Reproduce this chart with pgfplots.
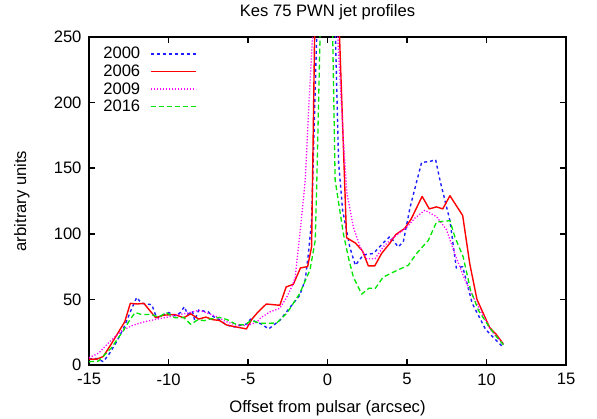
\documentclass[border=0pt]{standalone}
\usepackage{fontspec}
\setmainfont{Liberation Sans}
\usepackage{pgfplots}
\pgfplotsset{compat=1.18}
\definecolor{gpblue}{RGB}{30,30,255}
\definecolor{gpred}{RGB}{255,0,0}
\definecolor{gpmag}{RGB}{255,0,255}
\definecolor{gpgreen}{RGB}{0,230,0}
\begin{document}
\begin{tikzpicture}[font=\fontsize{16.6bp}{19.9bp}\selectfont]
\useasboundingbox (-89bp,-54bp) rectangle (508bp,365bp);
\begin{axis}[
  at={(0,0)}, anchor=south west,
  scale only axis, width=477bp, height=328bp,
  xmin=-15, xmax=15, ymin=0, ymax=250,
  xtick={-15,-10,...,15}, xticklabels={-15,-10,-5,0,5,10,15},
  ytick={0,50,...,250}, yticklabels={0,50,100,150,200,250},
  tick align=inside, major tick length=6bp,
  axis line style={line width=1.5bp},
  every tick/.style={black, line width=1.5bp},
  xticklabel style={yshift=-5bp},
  yticklabel style={xshift=-4bp},
  title={Kes 75 PWN jet profiles},
  every axis title/.style={at={(axis description cs:0.5,1.0625)}, anchor=base, inner sep=0pt},
  xlabel={Offset from pulsar (arcsec)},
  xlabel style={at={(axis description cs:0.5,-0.1463)}, anchor=base, inner sep=0pt},
  ylabel={arbitrary units},
  ylabel style={at={(axis description cs:-0.141,0.5)}, anchor=center},
  legend plot pos=right,
  legend cell align=right,
  legend image code/.code={\draw[#1] (0bp,0bp) -- (45bp,0bp);},
  legend style={draw=none, fill=none, at={(axis description cs:0.030,0.9686)}, anchor=north west,
    inner sep=0pt, outer sep=0pt, row sep=4.5bp, column sep=10bp, nodes={inner sep=0pt}},
  every axis plot/.append style={line join=round, line width=1.3bp},
]
\addplot[gpblue, line width=1.4bp, dash pattern=on 3bp off 3bp] coordinates {
(-15,4.5) (-14.5,5) (-14.1,2.5) (-13.7,9) (-13.25,18) (-12.75,30) (-12.35,42) (-12.0,51.5)
(-11.7,47) (-11.4,46.5) (-11.05,46) (-10.75,36) (-10.0,40) (-9.55,37.5) (-9.25,40) (-9.0,44.5)
(-8.8,38.5) (-8.5,41) (-8.35,34) (-8.1,42) (-7.75,41) (-7.5,40.5) (-7.2,37) (-6.8,34.5)
(-6.35,30.5) (-5.85,29) (-5.4,30.5) (-5.0,31.5) (-4.85,35) (-4.45,32.5) (-4.2,31.5) (-3.7,27.5)
(-3.0,34) (-2.35,44) (-1.75,53) (-1.4,65) (-1.2,85) (-1.0,110) (-0.5,330) (0,800) (0.3,400)
(0.5,250) (0.7,154) (0.95,118) (1.4,90) (1.75,76) (2.26,84) (2.89,85) (3.5,93) (3.93,98)
(4.45,90) (4.77,94) (5.19,120) (5.92,154.5) (6.4,155) (6.8,156.5) (7.07,141) (7.7,110)
(8.1,74) (8.5,75) (9.1,47) (9.95,27) (10.75,17) (11.06,13.5)
};
\addlegendentry{2000}
\addplot[gpred, line width=1.4bp] coordinates {
(-15,4.5) (-14.5,4.5) (-14.1,6.5) (-13.6,16) (-13.1,26) (-12.75,33) (-12.4,47) (-11.95,46.5)
(-11.55,47) (-10.8,36) (-10.3,38) (-9.6,38.5) (-9.05,36) (-8.6,39) (-8.1,35) (-7.65,36.5)
(-7.2,34.5) (-6.8,34) (-6.35,30.5) (-5.75,29) (-5.1,27.5) (-4.75,35) (-4.4,40) (-3.85,46.5)
(-3.0,45.5) (-2.6,59.5) (-2.15,61.5) (-1.7,74) (-1.25,75) (-1.0,90) (-0.8,260) (-0.3,700)
(0.3,700) (0.7,270) (1.2,97) (1.75,93) (2.2,87) (2.57,75.5) (2.97,75.5) (3.4,85) (3.9,92.5)
(4.3,99.5) (4.85,104) (5.25,111) (5.95,128.5) (6.4,119) (6.85,120.5) (7.25,119) (7.7,129)
(8.5,114) (8.95,77) (9.4,50) (10.2,28.5) (10.6,23.5) (11.06,16)
};
\addlegendentry{2006}
\addplot[gpmag, dash pattern=on 1.2bp off 1.8bp] coordinates {
(-15,5.5) (-14.4,9) (-13.6,19) (-12.95,26) (-12.3,30) (-11.5,33) (-10.7,35) (-9.85,37)
(-9.35,38.4) (-8.7,39.8) (-8.1,41.7) (-7.65,40) (-7.0,37) (-6.35,33) (-5.75,30.5) (-5.1,30)
(-4.45,32.5) (-4.2,36) (-3.6,40.6) (-3.0,43.2) (-2.55,52) (-2.23,60) (-2.03,67) (-1.71,103)
(-1.4,141) (-1.1,215) (-0.9,260) (0,900) (0.6,260) (1.0,171) (1.22,131) (1.63,105) (2.05,90)
(2.47,81) (2.99,81) (3.5,90) (3.93,95) (4.98,105) (5.5,112) (6.13,118) (6.86,113) (7.49,103)
(8.0,85) (8.64,65) (9.0,56) (9.5,44) (10.3,26) (11.06,16)
};
\addlegendentry{2009}
\addplot[gpgreen, dash pattern=on 5bp off 3bp] coordinates {
(-15,2.5) (-14.4,3) (-13.6,13) (-12.85,26) (-12.45,34) (-12.1,40) (-11.7,38.5) (-11.1,38.5)
(-10.6,36.5) (-10.15,40) (-9.6,36) (-9.05,36.3) (-8.6,31) (-8.15,34.5) (-7.75,33.8) (-7.3,35.2)
(-6.8,36.3) (-6.3,34.5) (-5.75,31) (-5.2,30.5) (-4.8,34) (-4.2,31.7) (-3.2,32) (-2.55,39.5)
(-1.75,54.5) (-1.1,72.5) (-0.77,95) (-0.67,141) (-0.45,260) (0,800) (0.3,270) (0.48,141)
(1.0,100) (1.35,80) (1.63,67) (2.15,54) (2.6,58.5) (3.0,58.3) (3.5,67) (4.35,72) (5.08,76)
(5.6,85) (6.34,95) (6.86,109) (7.7,110) (8.0,98) (8.53,82.5) (9.0,57) (9.5,41.5) (10.2,28.5)
(10.6,22) (11.06,15.5)
};
\addlegendentry{2016}
\end{axis}
\end{tikzpicture}
\end{document}
